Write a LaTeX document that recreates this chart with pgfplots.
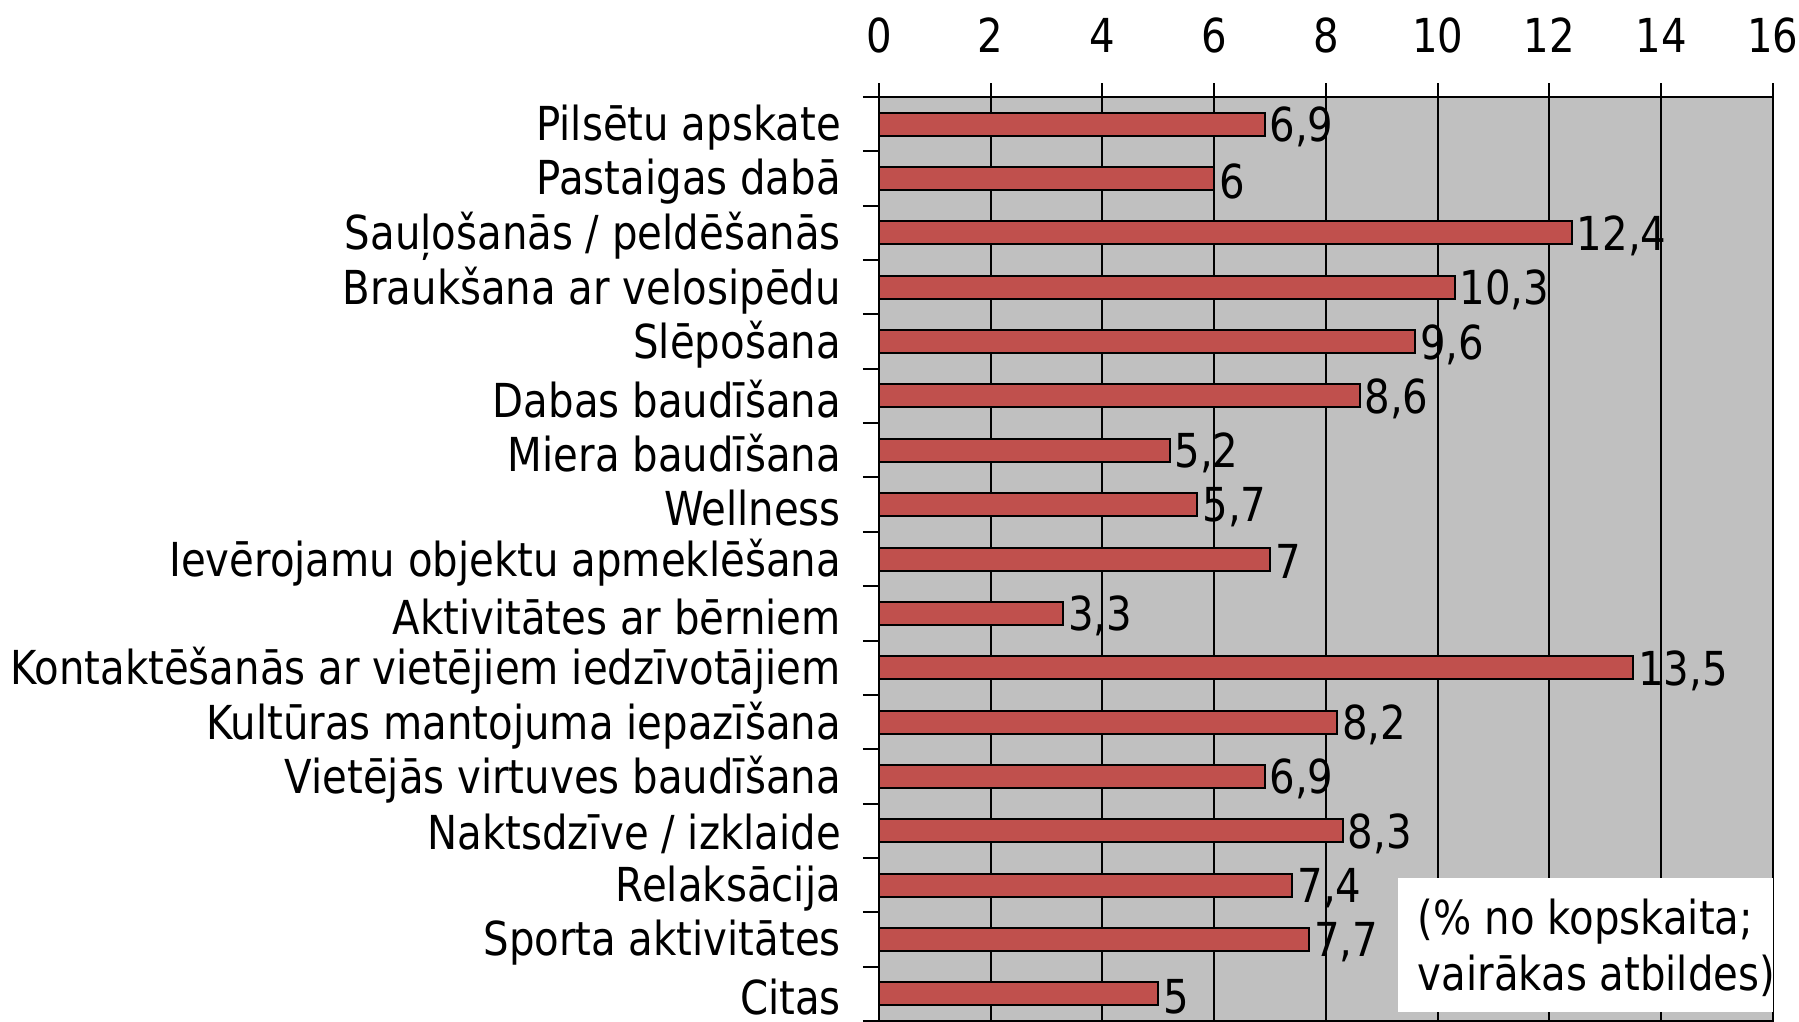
\documentclass[border=0pt]{standalone}
\usepackage{pgfplots}
\pgfplotsset{compat=1.18}
\usepackage{fontspec}
\setmainfont{DejaVu Sans}[FakeStretch=0.86]
\definecolor{barred}{HTML}{C0504D}
\definecolor{bggray}{HTML}{C0C0C0}
\begin{document}
\begin{tikzpicture}
\begin{axis}[
  at={(0,0)}, anchor=south west,
  scale only axis, width=223.5pt, height=231pt,
  xbar, bar width=5.75pt,
  xmin=0, xmax=16, xtick={0,2,...,16},
  ymin=-0.5, ymax=16.5, y dir=reverse,
  ytick={0,...,16},
  yticklabels={Pilsētu apskate, Pastaigas dabā, Sauļošanās / peldēšanās, Braukšana ar velosipēdu, Slēpošana, Dabas baudīšana, Miera baudīšana, Wellness, Ievērojamu objektu apmeklēšana, Aktivitātes ar bērniem, Kontaktēšanās ar vietējiem iedzīvotājiem, Kultūras mantojuma iepazīšana, Vietējās virtuves baudīšana, Naktsdzīve / izklaide, Relaksācija, Sporta aktivitātes, Citas},
  minor ytick={-0.5,0.5,...,16.5},
  major y tick style={draw=none},
  tick align=outside,
  major tick length=3.5pt, minor tick length=4pt,
  tick style={black, line width=0.5pt},
  xtick pos=upper, xticklabel pos=upper,
  ytick pos=left,
  xmajorgrids=true, ymajorgrids=false,
  grid style={black, line width=0.5pt},
  axis line style={black, line width=0.5pt},
  axis background/.style={fill=bggray},
  tick label style={font=\fontsize{11.7}{14}\selectfont},
  xticklabel style={yshift=4pt},
  yticklabel style={xshift=-2.5pt, yshift=-0.8pt},
  /pgf/number format/.cd, use comma, assume math mode=true, /pgfplots/.cd,
  nodes near coords,
  nodes near coords style={anchor=west, inner sep=1pt, yshift=-0.7pt, font=\fontsize{11.7}{14}\selectfont, black},
  clip=false,
]
\addplot[fill=barred, draw=black, line width=0.5pt] coordinates {
(6.9,0) (6,1) (12.4,2) (10.3,3) (9.6,4) (8.6,5) (5.2,6) (5.7,7) (7,8) (3.3,9) (13.5,10) (8.2,11) (6.9,12) (8.3,13) (7.4,14) (7.7,15) (5,16)
};
\fill[white] (axis cs:9.29,13.87) rectangle (axis cs:16,16.33);
\node[anchor=west, align=left, inner sep=0pt, font=\fontsize{11.7}{14}\selectfont] at (axis cs:9.63,15.16) {(\% no kopskaita;\\vairākas atbildes)};
\end{axis}
\pgfresetboundingbox
\path[use as bounding box] (-219.75pt,0) rectangle (230pt,255.25pt);
\end{tikzpicture}
\end{document}
